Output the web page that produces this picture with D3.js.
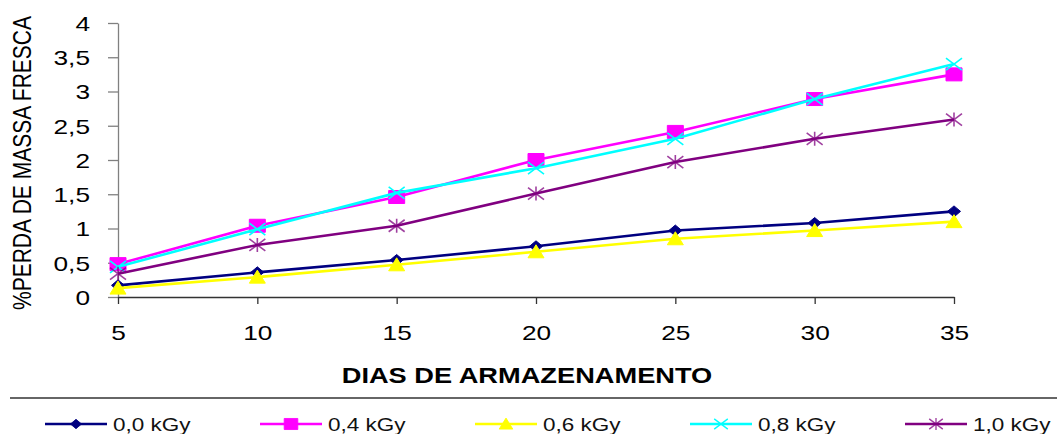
<!DOCTYPE html>
<html>
<head>
<meta charset="utf-8">
<script src="https://cdn.jsdelivr.net/npm/d3@7"></script>
<style>
  html, body { margin: 0; padding: 0; background: #fff; }
  svg { display: block; font-family: "Liberation Sans", Arial, sans-serif; }
</style>
</head>
<body>
<svg id="chart" width="1057" height="434"></svg>
<script>
// Storage days (x) and fresh-mass loss (%) per irradiation dose
const days = [5, 10, 15, 20, 25, 30, 35];
const seriesNames = ["0,0 kGy", "0,4 kGy", "0,6 kGy", "0,8 kGy", "1,0 kGy"];
const loss00 = [0.17, 0.36, 0.54, 0.74, 0.97, 1.08, 1.25];
const loss04 = [0.48, 1.04, 1.46, 2.00, 2.41, 2.89, 3.25];
const loss06 = [0.13, 0.29, 0.47, 0.66, 0.85, 0.97, 1.10];
const loss08 = [0.44, 0.99, 1.52, 1.88, 2.31, 2.89, 3.40];
const loss10 = [0.34, 0.76, 1.04, 1.51, 1.97, 2.31, 2.59];
const yTicks = [0, 0.5, 1, 1.5, 2, 2.5, 3, 3.5, 4];
const xLabel = "DIAS DE ARMAZENAMENTO";
const yLabel = "%PERDA DE MASSA FRESCA";

const colors = ["#000080", "#FF00FF", "#FFFF00", "#00FFFF", "#800080"];
const markerKinds = ["diamond", "square", "triangle", "cross", "star"];
const SX = 1.25; // horizontal stretch of the whole drawing

const series = [loss00, loss04, loss06, loss08, loss10].map((vals, i) => ({
  name: seriesNames[i], color: colors[i], marker: markerKinds[i],
  points: days.map((d, j) => ({ d, v: vals[j] }))
}));

const svg = d3.select("#chart");
const x = d3.scaleLinear().domain([5, 35]).range([118, 954]);
const y = d3.scaleLinear().domain([0, 4]).range([297, 23]);
const fmt = v => String(v).replace(".", ",");

// Marker path generator (centered on 0,0)
function markerPath(kind) {
  const p = d3.path();
  if (kind === "diamond") {
    p.moveTo(0, -5.5); p.lineTo(6.5, 0); p.lineTo(0, 5.5); p.lineTo(-6.5, 0); p.closePath();
  } else if (kind === "square") {
    p.rect(-8, -6.5, 16, 13);
  } else if (kind === "triangle") {
    p.moveTo(0, -7); p.lineTo(8, 6); p.lineTo(-8, 6); p.closePath();
  } else if (kind === "cross") {
    p.moveTo(-8, -6); p.lineTo(8, 6); p.moveTo(-8, 6); p.lineTo(8, -6);
  } else if (kind === "star") {
    p.moveTo(-8, -6); p.lineTo(8, 6); p.moveTo(-8, 6); p.lineTo(8, -6);
    p.moveTo(0, -7); p.lineTo(0, 7);
  }
  return p.toString();
}
function drawMarker(sel, kind, color) {
  const filled = kind === "diamond" || kind === "square" || kind === "triangle";
  sel.append("path")
    .attr("d", markerPath(kind))
    .attr("fill", filled ? color : "none")
    .attr("stroke", color)
    .attr("stroke-width", filled ? 1 : 1.6)
    .attr("stroke-opacity", kind === "star" ? 0.75 : 1);
}

// Y axis
const yAxis = svg.append("g")
  .attr("transform", `translate(${x.range()[0]},0)`)
  .call(d3.axisLeft(y).tickValues(yTicks).tickFormat(fmt).tickSize(10).tickSizeOuter(0));
yAxis.select(".domain").attr("stroke", "#808080").attr("stroke-width", 1.3);
yAxis.selectAll(".tick line").attr("stroke", "#808080").attr("stroke-width", 1.3);
yAxis.selectAll(".tick text")
  .attr("x", 0).attr("dy", "0.35em")
  .attr("transform", `translate(-28,0) scale(${SX},1)`)
  .attr("fill", "#000").attr("font-size", 21)
  .attr("font-family", "'Liberation Sans', Arial, sans-serif");

// X axis
const xAxis = svg.append("g")
  .attr("transform", `translate(0,${y.range()[0]})`)
  .call(d3.axisBottom(x).tickValues(days).tickFormat(d3.format("d")).tickSize(7).tickSizeOuter(0));
xAxis.select(".domain").attr("stroke", "#333").attr("stroke-width", 1.3);
xAxis.selectAll(".tick line").attr("stroke", "#333").attr("stroke-width", 1.3);
xAxis.selectAll(".tick text")
  .attr("y", 0).attr("dy", 0)
  .attr("transform", `translate(0,43) scale(${SX},1)`)
  .attr("fill", "#000").attr("font-size", 21)
  .attr("font-family", "'Liberation Sans', Arial, sans-serif");

// Axis titles
svg.append("text")
  .attr("transform", `translate(527,383) scale(${SX * 0.99},1)`)
  .attr("text-anchor", "middle")
  .attr("font-size", 22).attr("font-weight", "bold").attr("fill", "#000")
  .text(xLabel);
svg.append("text")
  .attr("transform", `translate(31,163) scale(${SX},1) rotate(-90)`)
  .attr("text-anchor", "middle")
  .attr("font-size", 21).attr("fill", "#000")
  .text(yLabel);

// Series lines and markers
const line = d3.line().x(p => x(p.d)).y(p => y(p.v));
series.forEach(s => {
  const g = svg.append("g");
  g.append("path")
    .datum(s.points)
    .attr("d", line)
    .attr("fill", "none")
    .attr("stroke", s.color)
    .attr("stroke-width", 2.6)
    .attr("stroke-linejoin", "round");
  g.selectAll("g.pt")
    .data(s.points)
    .join("g")
    .attr("class", "pt")
    .attr("transform", p => `translate(${x(p.d)},${y(p.v)})`)
    .each(function () { drawMarker(d3.select(this), s.marker, s.color); });
});

// Legend separator
svg.append("line")
  .attr("x1", 10).attr("x2", 1057).attr("y1", 398).attr("y2", 398)
  .attr("stroke", "#333").attr("stroke-width", 1.5);

// Legend
const legendX = d3.scaleLinear().domain([0, 4]).range([45, 905]);
series.forEach((s, i) => {
  const g = svg.append("g").attr("transform", `translate(${legendX(i)},424)`);
  g.append("line")
    .attr("x1", 0).attr("x2", 62).attr("y1", 0).attr("y2", 0)
    .attr("stroke", s.color).attr("stroke-width", 2.4);
  const m = g.append("g").attr("transform", "translate(31,0) scale(0.85)");
  drawMarker(m, s.marker, s.color);
  g.append("text")
    .attr("transform", `translate(68,7) scale(${SX},1)`)
    .attr("font-size", 18).attr("fill", "#111")
    .text(s.name);
});
</script>
</body>
</html>
